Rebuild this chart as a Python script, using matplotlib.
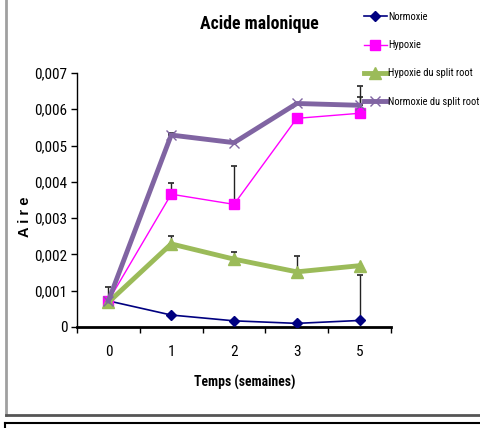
import matplotlib
matplotlib.use("Agg")
import matplotlib.pyplot as plt
from matplotlib.lines import Line2D
from matplotlib import font_manager

# pick a condensed sans font if one exists
entries = font_manager.fontManager.ttflist
names = {f.name for f in entries}
font_kw = {"family": "Liberation Sans"}
scale = 0.86
for cand in ["Liberation Sans Narrow", "Arial Narrow", "Roboto Condensed", "Open Sans Condensed"]:
    if cand in names:
        font_kw = {"family": cand}
        scale = 1.0
        break

categories = ["0", "1", "2", "3", "5"]
normoxie = [0.00072, 0.00033, 0.00017, 0.00010, 0.00018]
hypoxie = [0.00072, 0.00366, 0.00338, 0.00575, 0.00589]
hypoxie_sr = [0.00068, 0.00229, 0.00187, 0.00152, 0.00169]
normoxie_sr = [0.00072, 0.00529, 0.00508, 0.00616, 0.00611]

err_normoxie = [0.00039, 0, 0, 0, 0.00124]
err_hypoxie = [0, 0.00031, 0.00107, 0, 0.00075]
err_hypoxie_sr = [0, 0.00023, 0.00020, 0.00044, 0]
err_normoxie_sr = [0, 0.00006, 0, 0, 0.00023]

yticks = [0, 0.001, 0.002, 0.003, 0.004, 0.005, 0.006, 0.007]
yticklabels = ["0", "0,001", "0,002", "0,003", "0,004", "0,005", "0,006", "0,007"]

fig = plt.figure(figsize=(4.8, 4.28), dpi=100)
ax = fig.add_axes([77/480, 1-327/428, (391-77)/480, (327-73)/428])
x = list(range(len(categories)))

series = [
    ("Normoxie", normoxie, err_normoxie, "#000080", 1.2, "D", 5),
    ("Hypoxie", hypoxie, err_hypoxie, "#FF00FF", 1.0, "s", 6.5),
    ("Hypoxie du split root", hypoxie_sr, err_hypoxie_sr, "#9BBB59", 3.5, "^", 8),
    ("Normoxie du split root", normoxie_sr, err_normoxie_sr, "#8064A2", 3.5, "x", 7),
]

for name, vals, errs, col, lw, mk, ms in series:
    lower = [0]*len(errs)
    ax.errorbar(x, vals, yerr=[lower, errs], fmt="none", ecolor="#222222",
                elinewidth=1.0, capsize=2.5, capthick=1.2, zorder=1)

handles = []
for name, vals, errs, col, lw, mk, ms in series:
    h, = ax.plot(x, vals, color=col, lw=lw, marker=mk, markersize=ms,
                 markeredgewidth=1.0, label=name, zorder=3)
    handles.append(h)

ax.set_xlim(-0.5, 4.5)
ax.set_ylim(0, 0.007)
ax.set_xticks([i - 0.5 for i in range(6)])
ax.set_xticklabels([])
ax.set_xticks(x, minor=True)
ax.set_xticklabels(categories, minor=True, fontsize=11*scale, **font_kw)
ax.tick_params(axis="x", which="minor", length=0, pad=13)
ax.tick_params(axis="x", which="major", length=4, direction="out", width=1)
ax.set_yticks(yticks)
ax.set_yticklabels(yticklabels, fontsize=11*scale, **font_kw)
ax.tick_params(axis="y", length=4, direction="out", width=1, pad=3)

for s in ["top", "right"]:
    ax.spines[s].set_visible(False)
ax.spines["bottom"].set_linewidth(2)
ax.spines["left"].set_linewidth(1)

fig.text(245/480, 1-382/428, "Temps (semaines)", fontsize=9.8*scale, fontweight="bold",
         ha="center", va="center", **font_kw)
fig.text(25/480, 1-217/428, "A i r e", rotation=90, fontsize=10.5, fontweight="bold",
         family="Liberation Sans", ha="center", va="center")
fig.text(259/480, 1-24/428, "Acide malonique", fontsize=12.8*scale, fontweight="bold",
         ha="center", va="center", **font_kw)

prop = dict(font_kw)
prop["size"] = 7.5*scale
leg = fig.legend(handles=handles, loc="upper left", bbox_to_anchor=(364/480, 1-12/428),
                 frameon=False, prop=prop,
                 handlelength=2.2, handletextpad=0.15, labelspacing=1.75,
                 borderaxespad=0, borderpad=0)

# frame lines
fig.add_artist(Line2D([6/480, 6/480], [1-415/428, 1], color="#A0A0A0", lw=2, transform=fig.transFigure))
fig.add_artist(Line2D([6/480, 1], [1-415/428, 1-415/428], color="#555555", lw=2, transform=fig.transFigure))
fig.add_artist(Line2D([5/480, 1], [1-423/428, 1-423/428], color="#000000", lw=1.5, transform=fig.transFigure))
fig.add_artist(Line2D([5/480, 5/480], [0, 1-423/428], color="#000000", lw=1.5, transform=fig.transFigure))

fig.savefig("out.png", dpi=100)
